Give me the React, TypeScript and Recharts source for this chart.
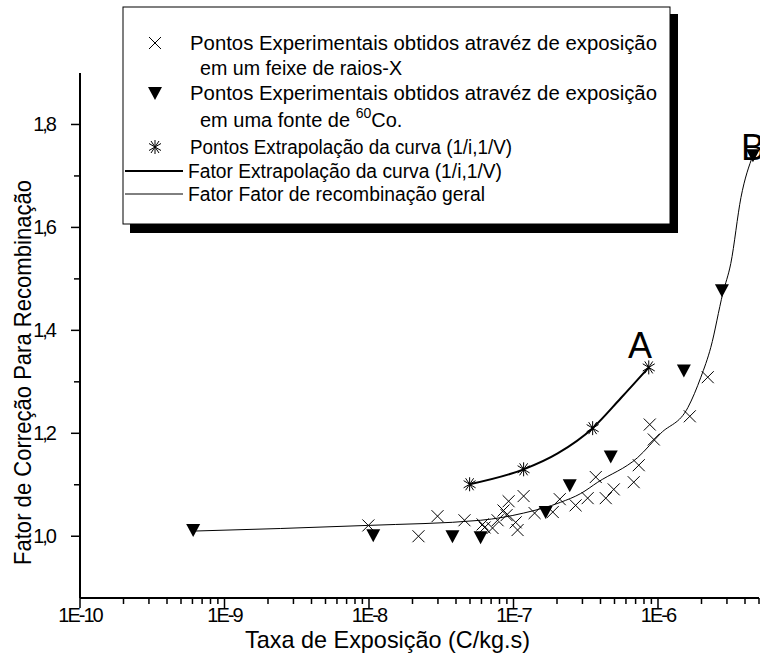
import React from 'react';
import { ComposedChart, XAxis, YAxis, Scatter, Line } from 'recharts';

// X-ray beam experimental points
const xrayRate = [9.9e-9, 2.2e-8, 2.98e-8, 4.58e-8, 6.11e-8, 6.31e-8, 7.16e-8, 7.76e-8, 8.53e-8, 9.25e-8, 8.95e-8, 1.035e-7, 1.067e-7, 1.175e-7, 1.4e-7, 1.87e-7, 2.09e-7, 2.69e-7, 3.26e-7, 3.71e-7, 4.35e-7, 4.94e-7, 6.79e-7, 7.36e-7, 9.35e-7, 8.77e-7, 1.66e-6, 2.21e-6];
const xrayFactor = [1.021, 1.0, 1.039, 1.031, 1.023, 1.017, 1.016, 1.031, 1.05, 1.068, 1.041, 1.027, 1.012, 1.078, 1.045, 1.047, 1.072, 1.06, 1.074, 1.115, 1.074, 1.091, 1.105, 1.138, 1.188, 1.217, 1.233, 1.309];

// Co-60 source experimental points
const coRate = [6.07e-10, 1.07e-8, 3.78e-8, 5.92e-8, 1.67e-7, 2.45e-7, 4.71e-7, 1.51e-6, 2.77e-6, 4.54e-6];
const coFactor = [1.012, 1.002, 1.0, 0.998, 1.047, 1.099, 1.155, 1.322, 1.478, 1.74];

// Extrapolation points (1/i, 1/V)
const extRate = [4.97e-8, 1.175e-7, 3.53e-7, 8.63e-7];
const extFactor = [1.101, 1.13, 1.21, 1.328];

// Extrapolation curve
const extCurveRate = [4.97e-8, 1.175e-7, 2.02e-7, 3.53e-7, 5.52e-7, 8.63e-7];
const extCurveFactor = [1.101, 1.13, 1.161, 1.21, 1.268, 1.328];

// General recombination factor curve
const genCurveRate = [6.07e-10, 9.75e-9, 5.92e-8, 1.175e-7, 2.12e-7, 2.92e-7, 3.83e-7, 7.24e-7, 1.045e-6, 1.61e-6, 1.98e-6, 2.32e-6, 2.81e-6, 3.19e-6, 3.75e-6, 4.54e-6];
const genCurveFactor = [1.01, 1.021, 1.031, 1.045, 1.066, 1.083, 1.105, 1.153, 1.2, 1.25, 1.309, 1.367, 1.472, 1.53, 1.658, 1.74];

const xMajorTicks = [1e-10, 1e-9, 1e-8, 1e-7, 1e-6];
const xMinorMultipliers = [2, 3, 4, 5, 6, 7, 8, 9];
const xDomain = [1e-10, 5e-6];
const yTicks = [1.0, 1.1, 1.2, 1.3, 1.4, 1.5, 1.6, 1.7, 1.8];
const yLabelTicks = [1.0, 1.2, 1.4, 1.6, 1.8];
const yDomain = [0.88, 1.9];

const zip = (xs: number[], ys: number[]) => xs.map((x, i) => ({ x, y: ys[i] }));
const xrayData = zip(xrayRate, xrayFactor);
const coData = zip(coRate, coFactor);
const extData = zip(extRate, extFactor);
const extCurveData = zip(extCurveRate, extCurveFactor);
const genCurveData = zip(genCurveRate, genCurveFactor);

const allXTicks: number[] = [];
xMajorTicks.forEach((d) => {
  allXTicks.push(d);
  xMinorMultipliers.forEach((m) => {
    const v = d * m;
    if (v <= xDomain[1] * 1.0001) allXTicks.push(v);
  });
});

const FONT = '"Liberation Sans", Arial, sans-serif';

const isMajorX = (v: number) => {
  const l = Math.log10(v);
  return Math.abs(l - Math.round(l)) < 1e-6;
};

const XTick = (props: any) => {
  const { x, y, payload } = props;
  const v = payload.value;
  const major = isMajorX(v);
  return (
    <g>
      <line x1={x} x2={x} y1={y} y2={y + (major ? 10 : 6)} stroke="#000" strokeWidth={1.5} />
      {major && (
        <text x={x} y={y + 24} textAnchor="middle" fontFamily={FONT} fontSize={20} letterSpacing={-2} fill="#000">
          {`1E${Math.round(Math.log10(v))}`}
        </text>
      )}
    </g>
  );
};

const YTick = (props: any) => {
  const { x, y, payload } = props;
  const v = payload.value;
  const major = yLabelTicks.some((t) => Math.abs(t - v) < 1e-6);
  return (
    <g>
      <line x1={x} x2={x - (major ? 9 : 6)} y1={y} y2={y} stroke="#000" strokeWidth={1.5} />
      {major && (
        <text x={x - 25} y={y + 7} textAnchor="end" fontFamily={FONT} fontSize={20} letterSpacing={-2} fill="#000">
          {v.toFixed(1).replace('.', ',')}
        </text>
      )}
    </g>
  );
};

const Cross = (props: any) => {
  const { cx, cy } = props;
  const s = 6;
  return (
    <path d={`M${cx - s},${cy - s}L${cx + s},${cy + s}M${cx - s},${cy + s}L${cx + s},${cy - s}`} stroke="#000" strokeWidth={1} fill="none" />
  );
};

const DownTri = (props: any) => {
  const { cx, cy } = props;
  return <path d={`M${cx - 7},${cy - 6}L${cx + 7},${cy - 6}L${cx},${cy + 7}Z`} fill="#000" />;
};

const Star = (props: any) => {
  const { cx, cy } = props;
  const s = 7;
  const d = 6;
  return (
    <path
      d={`M${cx},${cy - s}L${cx},${cy + s}M${cx - d},${cy - d * 0.6}L${cx + d},${cy + d * 0.6}M${cx - d},${cy + d * 0.6}L${cx + d},${cy - d * 0.6}M${cx - 4},${cy - 6}L${cx + 4},${cy + 6}M${cx - 4},${cy + 6}L${cx + 4},${cy - 6}`}
      stroke="#000"
      strokeWidth={1}
      fill="none"
    />
  );
};

const Overlay = () => (
  <svg width={760} height={663} style={{ position: 'absolute', left: 0, top: 0, pointerEvents: 'none' }}>
    {/* legend */}
    <rect x={130} y={14} width={548} height={219} fill="#000" />
    <rect x={123} y={7} width={547} height={217} fill="#fff" stroke="#000" strokeWidth={1} />
    <g fontFamily={FONT} fontSize={20} fill="#000">
      <path d="M149,37L161,49M149,49L161,37" stroke="#000" strokeWidth={1} />
      <text x={190} y={50} textLength={467} lengthAdjust="spacingAndGlyphs">Pontos Experimentais obtidos atravéz de exposição</text>
      <text x={200} y={75} textLength={202} lengthAdjust="spacingAndGlyphs">em um feixe de raios-X</text>
      <path d="M148,87L162,87L155,100Z" fill="#000" />
      <text x={190} y={100} textLength={467} lengthAdjust="spacingAndGlyphs">Pontos Experimentais obtidos atravéz de exposição</text>
      <text x={200} y={127}>
        em uma fonte de <tspan fontSize={14} dy={-9}>60</tspan><tspan dy={9}>Co.</tspan>
      </text>
      <path d="M155,140L155,154M149,143.5L161,150.5M149,150.5L161,143.5M151,141L159,153M151,153L159,141" stroke="#000" strokeWidth={1} />
      <text x={190} y={154} textLength={322} lengthAdjust="spacingAndGlyphs">Pontos Extrapolação da curva (1/i,1/V)</text>
      <line x1={125} x2={183} y1={171} y2={171} stroke="#000" strokeWidth={2} />
      <text x={188} y={178} textLength={314} lengthAdjust="spacingAndGlyphs">Fator Extrapolação da curva (1/i,1/V)</text>
      <line x1={125} x2={183} y1={194} y2={194} stroke="#000" strokeWidth={1} />
      <text x={188} y={201} textLength={297} lengthAdjust="spacingAndGlyphs">Fator Fator de recombinação geral</text>
    </g>
    {/* annotations */}
    <text x={640} y={358} textAnchor="middle" fontFamily={FONT} fontSize={36} fill="#000">A</text>
    <text x={741} y={160} fontFamily={FONT} fontSize={36} fill="#000">B</text>
    {/* axis titles */}
    <text x={245} y={648} textLength={285} lengthAdjust="spacingAndGlyphs" fontFamily={FONT} fontSize={24} fill="#000">Taxa de Exposição (C/kg.s)</text>
    <text x={0} y={0} transform="translate(31,565) rotate(-90)" textLength={385} lengthAdjust="spacingAndGlyphs" fontFamily={FONT} fontSize={24} fill="#000">Fator de Correção Para Recombinação</text>
  </svg>
);

export default function App() {
  return (
    <div style={{ position: 'absolute', left: 0, top: 0, width: 760, height: 663, background: '#fff' }}>
      <ComposedChart width={760} height={663} margin={{ top: 73, right: 1, left: 0, bottom: 0 }}>
        <XAxis
          dataKey="x"
          type="number"
          scale="log"
          domain={xDomain}
          allowDataOverflow
          ticks={allXTicks}
          interval={0}
          tick={<XTick />}
          tickLine={false}
          tickSize={0}
          tickMargin={0}
          height={65}
          axisLine={{ stroke: '#000', strokeWidth: 2 }}
        />
        <YAxis
          dataKey="y"
          type="number"
          domain={yDomain}
          allowDataOverflow
          ticks={yTicks}
          interval={0}
          tick={<YTick />}
          tickLine={false}
          tickSize={0}
          tickMargin={0}
          width={80}
          axisLine={{ stroke: '#000', strokeWidth: 2 }}
        />
        <Line data={genCurveData} dataKey="y" type="monotone" stroke="#000" strokeWidth={1} dot={false} isAnimationActive={false} />
        <Line data={extCurveData} dataKey="y" type="monotone" stroke="#000" strokeWidth={2} dot={false} isAnimationActive={false} />
        <Scatter data={xrayData} dataKey="y" shape={<Cross />} isAnimationActive={false} />
        <Scatter data={coData} dataKey="y" shape={<DownTri />} isAnimationActive={false} />
        <Scatter data={extData} dataKey="y" shape={<Star />} isAnimationActive={false} />
      </ComposedChart>
      <Overlay />
    </div>
  );
}
